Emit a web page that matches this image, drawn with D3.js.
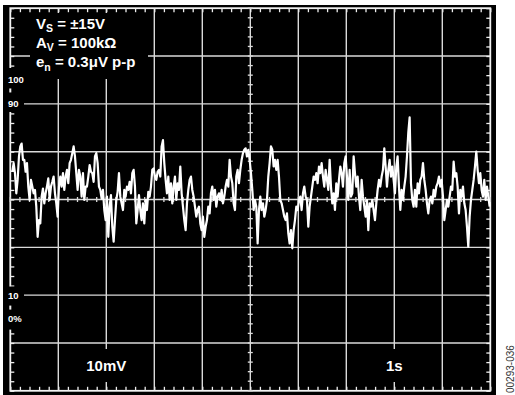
<!DOCTYPE html>
<html>
<head>
<meta charset="utf-8">
<script src="https://cdn.jsdelivr.net/npm/d3@7"></script>
<style>
  body { margin: 0; background: #fff; }
  svg { display: block; }
</style>
</head>
<body>
<div id="scope"></div>
<script>
"use strict";

// noise trace, mV at the scope input, one sample every 1/36 s
var segA = [5.8,7.6,5.5,1.3,4.1,9.0,11.1,11.7,8.3,8.3,5.8,7.6,2.7,-0.1,4.1,2.7,1.3,2.0,-1.5,-7.8,
  -4.3,-5.0,0.6,2.3,-0.8,1.3,2.7,4.4,-0.1,2.7,3.7,4.8,1.3,-0.8,-3.6,2.7,4.8,2.7,5.5,2.0,
  4.8,6.2,3.4,7.6,8.3,9.7,11.1,9.0,5.5,2.0,6.2,4.8,0.6,5.5,-0.1,2.7,2.7,4.8,7.2];
var segB = [5.8,5.5,3.7,9.0,9.7,7.6,2.7,2.0,0.2,2.0,-2.2,-4.3,0.6,-7.8,-1.5,0.9,-5.7,-8.8,-4.3,-0.1,
  1.6,5.5,0.6,-0.8,-2.2,2.0,0.6,2.7,2.0,3.7,1.3,5.5,6.2,2.7,-5.0,-2.2,0.9,-2.2,-4.3,-0.8,
  -5.0,-0.1,-2.2,1.6,0.6,2.7,6.2,6.5,4.8,4.1,5.8,6.2,4.8,11.1,12.4,7.6,4.1,1.3,4.8,-0.1];
var segC = [3.4,-0.8,2.7,4.8,-0.1,3.4,2.0,6.9,1.3,-1.5,-4.3,-6.4,-0.8,2.0,4.1,4.8,2.0,0.6,-1.5,-3.6,
  -2.2,-1.5,-5.0,-6.4,-3.6,-7.8,-5.7,-4.3,-1.5,-2.9,1.3,2.7,-0.1,2.0,-1.5,0.6,1.3,-0.1,2.0,-0.8,
  0.6,2.7,4.1,2.7,8.3,4.8,3.4,-0.8,-2.2,4.8,6.2,3.4,6.2,8.3,9.7,10.4,10.7,9.0,10.4,8.3];
var segD = [5.5,2.0,-2.2,-0.1,-1.5,-9.2,-2.2,0.6,-2.2,-0.8,-3.6,-2.2,-0.1,4.8,7.6,11.1,10.4,6.9,8.3,6.2,
  8.3,4.8,-0.1,-0.8,-2.2,-3.6,-4.3,-2.9,-7.1,-9.2,-6.4,-10.2,-6.4,-4.3,-1.5,-2.2,-0.1,0.6,-2.2,1.3,
  2.7,0.6,-0.1,-5.7,-1.5,0.6,2.7,4.8,4.1,5.5,3.4,6.9,5.5,7.6,4.8,2.7,6.2,4.1,2.0,8.3];
var segE = [2.7,-0.8,1.3,-2.2,3.4,0.6,4.1,6.9,5.5,2.7,7.6,9.0,4.8,-0.1,6.2,0.6,1.3,9.0,5.5,2.7,
  4.8,0.6,-2.2,4.1,0.6,-1.5,-3.6,-0.1,-6.4,-0.8,-1.5,-0.1,-2.2,-4.3,-0.8,2.0,4.1,2.7,4.8,6.2,
  10.7,6.9,2.7,6.2,8.3,4.8,6.9,4.1,1.3,6.9,9.0,2.7,-2.2,2.0,-0.1,2.7,4.8,9.0,14.0,17.2];
var segF = [3.4,-0.1,-1.5,2.0,-1.5,3.4,1.3,4.1,4.8,7.6,4.1,2.0,-0.8,-2.9,-0.1,0.6,-0.8,2.0,0.6,2.7,
  3.4,4.8,2.7,4.1,0.6,-4.3,-2.2,-0.1,-1.5,0.6,2.7,2.0,7.9,4.8,5.5,2.7,-2.9,2.0,0.6,2.7,
  -0.8,-2.2,-5.7,-9.9,-3.6,-0.1,2.0,4.1,6.9,10.0,6.2,3.4,5.5,2.0,0.6,4.1,-0.1,2.7,0.6,-1.5];

var sampleStart = 1 / 24;   // s
var sampleStep = 1 / 36;    // s

// screen: 10 div x 1 s, 8 div x 10 mV
var timeDomain = [0, 10];
var voltDomain = [-40, 40];
var levelValues = [25, 20, -20, -25];
var levelLabels = ["100", "90", "10", "0%"];
var noteLines = [
  { main: "V", sub: "S", rest: " = \u00b115V" },
  { main: "A", sub: "V", rest: " = 100k\u03a9" },
  { main: "e", sub: "n", rest: " = 0.3\u03bcV p-p" }
];
var scaleLabels = [{ text: "10mV", at: 2 }, { text: "1s", at: 8 }];
var figureCode = "00293-036";

var samples = segA.concat(segB, segC, segD, segE, segF).map(function(v, i) {
  return { t: sampleStart + i * sampleStep, v: v };
});

var width = 515, height = 395;
var font = "'Liberation Sans', Arial, Helvetica, sans-serif";

var x = d3.scaleLinear().domain(timeDomain).range([10.3, 490.3]);
var y = d3.scaleLinear().domain(voltDomain).range([390.8, 8.2]);

var svg = d3.select("#scope").append("svg")
    .attr("width", width)
    .attr("height", height);

// screen background
svg.append("rect")
    .attr("x", 3).attr("y", 5)
    .attr("width", 493).attr("height", 390)
    .attr("fill", "#000");

var gridColor = "#dadada";

// major grid
svg.append("g").selectAll("line")
    .data(d3.range(1, 10))
  .enter().append("line")
    .attr("x1", function(d) { return x(d); })
    .attr("x2", function(d) { return x(d); })
    .attr("y1", y(40)).attr("y2", y(-40))
    .attr("stroke", gridColor).attr("stroke-width", 1.4);

svg.append("g").selectAll("line")
    .data(d3.range(-30, 31, 10))
  .enter().append("line")
    .attr("y1", function(d) { return y(d); })
    .attr("y2", function(d) { return y(d); })
    .attr("x1", x(0)).attr("x2", x(10))
    .attr("stroke", gridColor).attr("stroke-width", 1.4);

// border
svg.append("rect")
    .attr("x", x(0)).attr("y", y(40))
    .attr("width", x(10) - x(0)).attr("height", y(-40) - y(40))
    .attr("fill", "none")
    .attr("stroke", "#f2f2f2").attr("stroke-width", 1.8);

// minor ticks on the border, pointing in
var minorX = d3.range(0, 10.001, 0.2);
var minorY = d3.range(-40, 40.001, 2);

function ticks(axis, tx, ty) {
  var g = svg.append("g")
      .attr("transform", "translate(" + tx + "," + ty + ")")
      .attr("color", "#eee")
      .call(axis.tickSize(4).tickFormat(""));
  g.select(".domain").remove();
  g.selectAll("line").attr("stroke-width", 1.3);
}
ticks(d3.axisBottom(x).tickValues(minorX), 0, y(40));
ticks(d3.axisTop(x).tickValues(minorX), 0, y(-40));
ticks(d3.axisRight(y).tickValues(minorY), x(0), 0);
ticks(d3.axisLeft(y).tickValues(minorY), x(10), 0);

// minor ticks across the centre lines
svg.append("g").selectAll("line")
    .data(minorX)
  .enter().append("line")
    .attr("x1", function(d) { return x(d); })
    .attr("x2", function(d) { return x(d); })
    .attr("y1", y(0) - 2.5).attr("y2", y(0) + 2.5)
    .attr("stroke", gridColor).attr("stroke-width", 1.3);

svg.append("g").selectAll("line")
    .data(minorY)
  .enter().append("line")
    .attr("y1", function(d) { return y(d); })
    .attr("y2", function(d) { return y(d); })
    .attr("x1", x(5) - 2.5).attr("x2", x(5) + 2.5)
    .attr("stroke", gridColor).attr("stroke-width", 1.3);

// black patches behind the on-screen text
var patches = [
  [30, 13, 118, 66],
  [4, y(27.5), 20, y(18.3) - y(27.5)],
  [4, y(-18.2), 20, y(-27.2) - y(-18.2)]
];
scaleLabels.forEach(function(s) {
  var w = s.text.length * 11 + 2;
  patches.push([x(s.at) - w / 2, 349, w, 33]);
});
svg.append("g").selectAll("rect")
    .data(patches)
  .enter().append("rect")
    .attr("x", function(d) { return d[0]; })
    .attr("y", function(d) { return d[1]; })
    .attr("width", function(d) { return d[2]; })
    .attr("height", function(d) { return d[3]; })
    .attr("fill", "#000");

// small marks left between the level labels
[22.8, -22.6].forEach(function(v) {
  svg.append("rect")
      .attr("x", x(0) - 1).attr("y", y(v) - 2)
      .attr("width", 2).attr("height", 4)
      .attr("fill", "#eee");
});

// level labels (100 / 90 / 10 / 0%)
svg.append("g").selectAll("text")
    .data(levelLabels)
  .enter().append("text")
    .attr("x", 8)
    .attr("y", function(d, i) { return y(levelValues[i]); })
    .attr("dy", "0.36em")
    .style("font-family", font)
    .style("font-size", "9.5px")
    .style("font-weight", "bold")
    .attr("fill", "#fff")
    .text(function(d) { return d; });

// annotation block
var note = svg.append("g")
    .style("font-family", font)
    .style("font-size", "15px")
    .style("font-weight", "bold")
    .attr("fill", "#fff");

noteLines.forEach(function(l, i) {
  var t = note.append("text")
      .attr("x", 36)
      .attr("y", 28.5 + i * 19.3);
  t.append("tspan").text(l.main);
  t.append("tspan").attr("dy", 3.5).style("font-size", "10.5px").text(l.sub);
  t.append("tspan").attr("dy", -3.5).text(l.rest);
});

// volts/div and time/div
svg.append("g").selectAll("text")
    .data(scaleLabels)
  .enter().append("text")
    .attr("x", function(d) { return x(d.at); })
    .attr("y", 371)
    .attr("text-anchor", "middle")
    .style("font-family", font)
    .style("font-size", "15px")
    .style("font-weight", "bold")
    .attr("fill", "#fff")
    .text(function(d) { return d.text; });

// the trace
var trace = d3.line()
    .x(function(d) { return x(d.t); })
    .y(function(d) { return y(d.v); });

svg.append("path")
    .datum(samples)
    .attr("d", trace)
    .attr("fill", "none")
    .attr("stroke", "#fff")
    .attr("stroke-width", 2.2)
    .attr("stroke-linejoin", "round");

// figure code on the right edge
svg.append("text")
    .attr("transform", "translate(514,393) rotate(-90)")
    .style("font-family", font)
    .style("font-size", "10px")
    .attr("fill", "#333")
    .text(figureCode);
</script>
</body>
</html>
